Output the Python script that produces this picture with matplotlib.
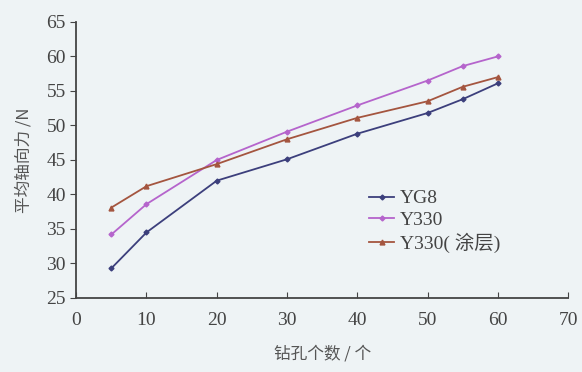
import numpy as np
import matplotlib
matplotlib.use("Agg")
import matplotlib.pyplot as plt

plt.rcParams['font.family'] = ['Liberation Serif', 'Noto Sans CJK SC', 'DejaVu Sans']

# data
holes = [5, 10, 20, 30, 40, 50, 55, 60]
yg8 = [29.3, 34.5, 42.0, 45.1, 48.8, 51.8, 53.8, 56.1]
y330 = [34.2, 38.6, 45.0, 49.1, 52.9, 56.5, 58.6, 60.0]
y330_coat = [38.1, 41.2, 44.4, 48.0, 51.1, 53.5, 55.6, 57.0]
series_names = ["YG8", "Y330", "Y330( 涂层)"]

bg = '#eef3f5'
fig = plt.figure(figsize=(5.82, 3.72), dpi=100, facecolor=bg)
ax = fig.add_axes([0.131, 0.199, 0.845, 0.742], facecolor=bg)

ax.plot(holes, yg8, color='#3c3f7c', lw=1.3, marker='D', ms=2.5, label=series_names[0])
ax.plot(holes, y330, color='#b564cc', lw=1.3, marker='D', ms=2.5, label=series_names[1])
ax.plot(holes, y330_coat, color='#a4553f', lw=1.3, marker='^', ms=3.5, label=series_names[2])

ax.set_xlim(0, 70)
ax.set_ylim(25, 65)
ax.set_xticks(np.arange(0, 71, 10))
ax.set_yticks(np.arange(25, 66, 5))
for s in ['top', 'right']:
    ax.spines[s].set_visible(False)
for s in ['left', 'bottom']:
    ax.spines[s].set_color('#444444')
    ax.spines[s].set_linewidth(1.3)
ax.tick_params(axis='x', direction='in', length=4, colors='#444444', labelsize=14, pad=10)
ax.tick_params(axis='y', direction='out', length=4, colors='#444444', labelsize=14)

ax.set_xlabel('钻孔个数 / 个', fontsize=12, color='#555555', family=['Noto Sans CJK SC'], labelpad=12)
ax.set_ylabel('平均轴向力 /N', fontsize=12, color='#555555', family=['Noto Sans CJK SC', 'DejaVu Sans'], labelpad=10)

leg = ax.legend(loc='upper left', bbox_to_anchor=(0.56, 0.455), frameon=False,
                handlelength=1.3, handletextpad=0.3, labelspacing=0.2,
                prop={'family': ['Liberation Serif', 'Noto Sans CJK SC'], 'size': 14})
for t in leg.get_texts():
    t.set_color('#444444')

fig.savefig('out.png', dpi=100, facecolor=bg)
